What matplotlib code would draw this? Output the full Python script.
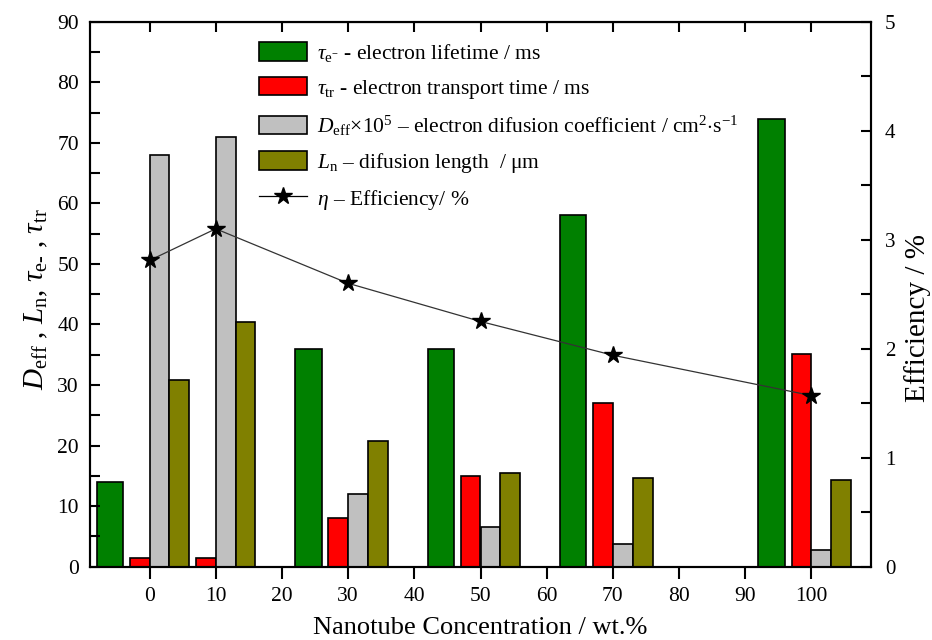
import numpy as np
import matplotlib
matplotlib.use("Agg")
import matplotlib.pyplot as plt
from matplotlib.patches import Patch
from matplotlib.lines import Line2D
from matplotlib.ticker import MultipleLocator

plt.rcParams['font.family'] = ['Liberation Serif', 'DejaVu Serif']
plt.rcParams['mathtext.fontset'] = 'custom'
plt.rcParams['mathtext.rm'] = 'Liberation Serif'
plt.rcParams['mathtext.it'] = 'Liberation Serif:italic'
plt.rcParams['mathtext.bf'] = 'Liberation Serif:bold'

# Data
concentration = [0, 10, 30, 50, 70, 100]
tau_e = [14.0, np.nan, 36.0, 36.0, 58.0, 74.0]
tau_tr = [1.5, 1.4, 8.1, 15.0, 27.0, 35.2]
D_eff = [68.0, 71.0, 12.0, 6.6, 3.7, 2.75]
L_n = [30.8, 40.4, 20.8, 15.4, 14.6, 14.4]
efficiency = [2.81, 3.10, 2.60, 2.25, 1.94, 1.57]

labels = [
    r"$\tau_{\rm e^{-}}$ - electron lifetime / ms",
    r"$\tau_{\rm tr}$ - electron transport time / ms",
    r"$D_{\rm eff}$$\times$10$^5$ – electron difusion coefficient / cm$^2$$\cdot$s$^{-1}$",
    r"$L_{\rm n}$ – difusion length  / μm",
    r"$\eta$ – Efficiency/ %",
]

c = np.array(concentration, dtype=float)
fig = plt.figure(figsize=(9.32, 6.4), dpi=100)
ax = fig.add_axes([90/932, 1-566.7/640, 781/932, (566.7-21.7)/640])

ec = dict(edgecolor='black', linewidth=1.2)
ax.bar(c - 6, tau_e, width=4, color='#008000', **ec)
ax.bar(c - 3, tau_tr, width=3, align='edge', color='#FF0000', **ec)
ax.bar(c, D_eff, width=3, align='edge', color='#C0C0C0', **ec)
ax.bar(c + 3, L_n, width=3, align='edge', color='#808000', **ec)

ax.set_xlim(-9, 109)
ax.set_ylim(0, 90)
ax.set_xticks(range(0, 101, 10))
ax.yaxis.set_major_locator(MultipleLocator(10))
ax.yaxis.set_minor_locator(MultipleLocator(5))
ax.tick_params(axis='x', direction='out', length=8.5, width=1.5, labelsize=15.5, pad=6)
ax.tick_params(axis='y', which='both', direction='in', length=7, width=1.5, labelsize=15.5, right=False, pad=8)
for s in ax.spines.values():
    s.set_linewidth(1.5)

sec = ax.secondary_xaxis('top')
sec.set_xticks(range(0, 101, 10))
sec.tick_params(direction='in', length=7, width=1.5, labeltop=False)

ax.set_xlabel("Nanotube Concentration / wt.%", fontsize=19, labelpad=8)
ax.set_ylabel(r"$D_{\rm eff}$ , $L_{\rm n}$, $\tau_{\rm e\text{-}}$ , $\tau_{\rm tr}$", fontsize=21, labelpad=5)
ax.yaxis.label.set_y(0.49)

ax2 = ax.twinx()
ax2.set_ylim(0, 5)
ax2.yaxis.set_major_locator(MultipleLocator(1))
ax2.yaxis.set_minor_locator(MultipleLocator(0.5))
ax2.tick_params(axis='y', which='both', direction='in', length=7, width=1.5, labelsize=15, pad=10)
ax2.plot(c, efficiency, color='#333333', linewidth=0.9, marker='*', markersize=13,
         markerfacecolor='black', markeredgecolor='black')
ax2.set_ylabel("Efficiency / %", fontsize=21, labelpad=6)
ax2.yaxis.label.set_y(0.456)
for s in ax2.spines.values():
    s.set_linewidth(1.5)

handles = [
    Patch(facecolor='#008000', edgecolor='black', linewidth=1.2),
    Patch(facecolor='#FF0000', edgecolor='black', linewidth=1.2),
    Patch(facecolor='#C0C0C0', edgecolor='black', linewidth=1.2),
    Patch(facecolor='#808000', edgecolor='black', linewidth=1.2),
    Line2D([], [], color='black', linewidth=0.9, marker='*', markersize=13),
]
ax2.legend(handles, labels, loc='upper left', bbox_to_anchor=((259-90)/781, 1-(42-21.7)/545),
           frameon=False, fontsize=15.5, handlelength=2.23, handleheight=0.95,
           labelspacing=0.6, borderpad=0, handletextpad=0.45, borderaxespad=0)

fig.savefig("out.png", dpi=100)
